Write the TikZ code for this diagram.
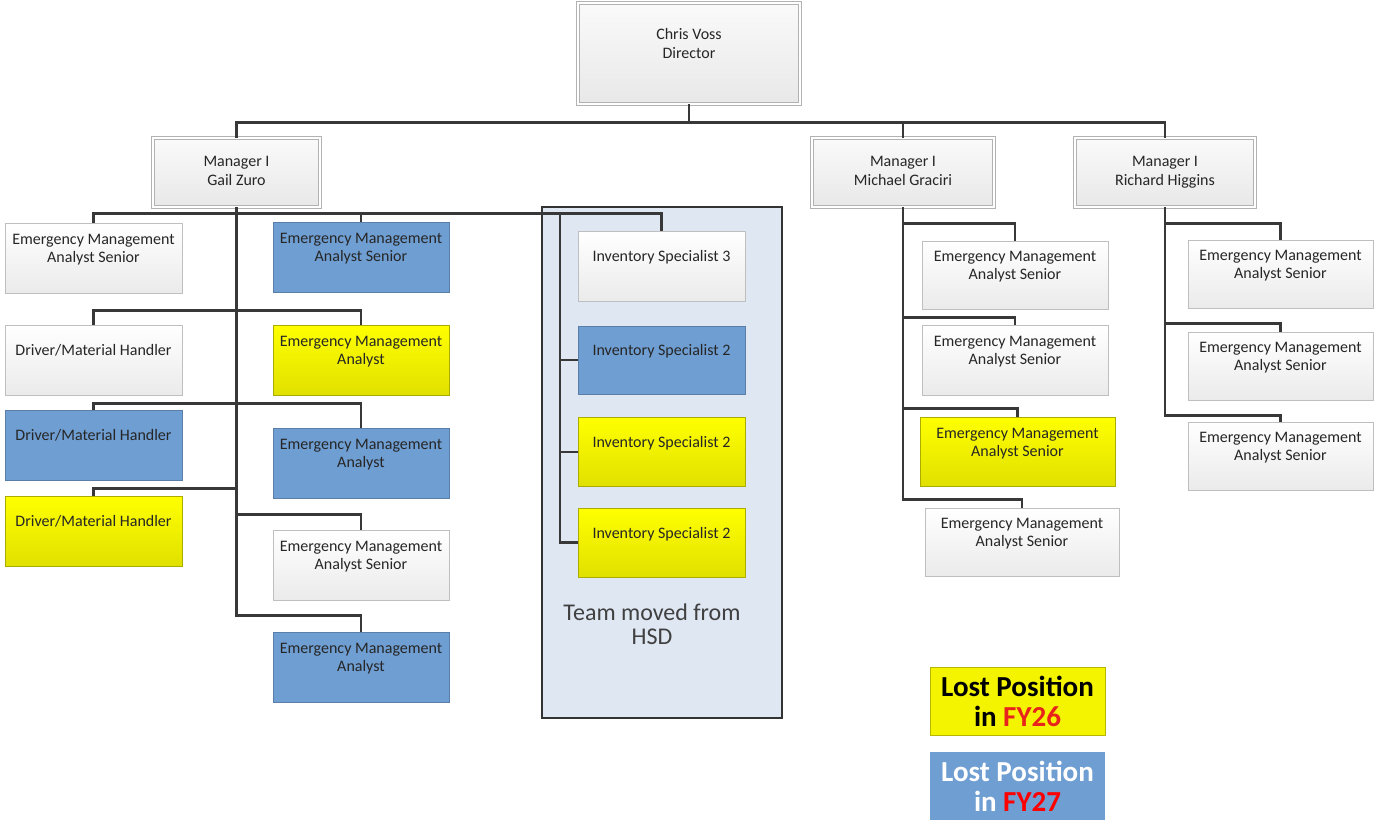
\documentclass[tikz,border=0pt]{standalone}
\usepackage{fontspec}
\setmainfont{Carlito}

\definecolor{lostblue}{HTML}{6F9ED2}
\definecolor{lostyellow}{HTML}{F4F400}
\definecolor{boxline}{HTML}{BFBFBF}
\definecolor{teamfill}{HTML}{DFE7F3}
\definecolor{linkgray}{HTML}{383838}
\definecolor{fyred}{HTML}{E8231C}

% text sits a little above the middle of each position box
\newcommand{\orgtext}[2][70]{\parbox[c][#1pt][c]{166pt}{\centering\strut#2\strut\par\vspace{16pt}}}

\begin{document}
\begin{tikzpicture}[x=1pt,y=-1pt,
    post/.style={inner sep=0pt, minimum height=70pt, text=black!85,
        font=\fontsize{16}{18}\selectfont},
    wbox/.style={post, draw=boxline, line width=0.8pt, top color=white, bottom color=black!8},
    bbox/.style={post, draw=lostblue!80!black, fill=lostblue},
    ybox/.style={post, draw=lostyellow!70!black, top color=yellow, bottom color=lostyellow!92!black},
    mgrbox/.style={draw=black!30, line width=0.9pt, double=white, double distance=1.6pt,
        top color=black!2, bottom color=black!9, inner sep=0pt, minimum height=69pt,
        align=center, text=black!85, font=\fontsize{16}{19}\selectfont},
    link/.style={draw=linkgray, line width=2.2pt},
    legend/.style={minimum width=175pt, minimum height=68pt, inner sep=0pt, align=center,
        font=\bfseries\fontsize{29}{30}\selectfont}]
    \useasboundingbox (0,0) rectangle (1377,822);

    % moved team
    \node[draw=black!80, line width=1.5pt, fill=teamfill, minimum width=240pt, minimum height=511pt]
        (team) at (662,462.5) {};
    \node[align=center, text=black!75, font=\fontsize{24}{24}\selectfont] (teamlabel) at (652,624)
        {Team moved from\\HSD};

    % heads
    \node[mgrbox, minimum width=222pt, minimum height=101pt] (dir) at (689,53.5) {\orgtext[101]{Chris Voss\\Director}};
    \node[mgrbox, minimum width=167pt] (gail) at (236.5,172.5) {\strut Manager I\\Gail Zuro\strut};
    \node[mgrbox, minimum width=182pt] (mike) at (903,172.5) {\strut Manager I\\Michael Graciri\strut};
    \node[mgrbox, minimum width=180pt] (rich) at (1165,172.5) {\strut Manager I\\Richard Higgins\strut};

    % Gail Zuro, left column
    \node[wbox, minimum width=177pt] (lems) at (93.5,258) {\orgtext{Emergency Management\\Analyst Senior}};
    \node[wbox, minimum width=177pt] (drv1) at (93.5,360) {\orgtext{Driver/Material Handler}};
    \node[bbox, minimum width=177pt] (drv2) at (93.5,445) {\orgtext{Driver/Material Handler}};
    \node[ybox, minimum width=177pt] (drv3) at (93.5,531) {\orgtext{Driver/Material Handler}};
    % Gail Zuro, right column
    \node[bbox, minimum width=176pt] (rems) at (361,257) {\orgtext{Emergency Management\\Analyst Senior}};
    \node[ybox, minimum width=176pt] (ema1) at (361,360) {\orgtext{Emergency Management\\Analyst}};
    \node[bbox, minimum width=176pt] (ema2) at (361,463) {\orgtext{Emergency Management\\Analyst}};
    \node[wbox, minimum width=176pt] (ems2) at (361,565) {\orgtext{Emergency Management\\Analyst Senior}};
    \node[bbox, minimum width=176pt] (ema3) at (361,667) {\orgtext{Emergency Management\\Analyst}};
    % inventory team
    \node[wbox, minimum width=167pt] (inv3) at (661.5,266) {\orgtext{Inventory Specialist 3}};
    \node[bbox, minimum width=167pt, minimum height=68pt] (inv2a) at (661.5,360) {\orgtext[68]{Inventory Specialist 2}};
    \node[ybox, minimum width=167pt, minimum height=69pt] (inv2b) at (661.5,452) {\orgtext[69]{Inventory Specialist 2}};
    \node[ybox, minimum width=167pt, minimum height=69pt] (inv2c) at (661.5,542.5) {\orgtext[69]{Inventory Specialist 2}};

    % Michael Graciri
    \node[wbox, minimum width=186pt, minimum height=68pt] (m1) at (1015,275) {\orgtext[68]{Emergency Management\\Analyst Senior}};
    \node[wbox, minimum width=186pt] (m2) at (1015,360) {\orgtext{Emergency Management\\Analyst Senior}};
    \node[ybox, minimum width=195pt, minimum height=69pt] (m3) at (1017.5,451.5) {\orgtext[69]{Emergency Management\\Analyst Senior}};
    \node[wbox, minimum width=194pt, minimum height=68pt] (m4) at (1022,542) {\orgtext[68]{Emergency Management\\Analyst Senior}};

    % Richard Higgins
    \node[wbox, minimum width=185pt, minimum height=68pt] (r1) at (1280.5,274) {\orgtext[68]{Emergency Management\\Analyst Senior}};
    \node[wbox, minimum width=185pt, minimum height=68pt] (r2) at (1280.5,366) {\orgtext[68]{Emergency Management\\Analyst Senior}};
    \node[wbox, minimum width=185pt, minimum height=68pt] (r3) at (1280.5,456) {\orgtext[68]{Emergency Management\\Analyst Senior}};

    % legend
    \node[legend, draw=lostyellow!75!black, fill=lostyellow] (lost26) at (1017.5,701)
        {Lost Position\\in \textcolor{fyred}{FY26}};
    \node[legend, fill=lostblue, text=white] (lost27) at (1017.5,786)
        {Lost Position\\in \textcolor{red}{FY27}};

    % connectors
    \foreach \mgr in {gail,mike,rich}
        \draw[link] (dir.south) -- ++(0,18) -| (\mgr.north);

    \draw[link] (gail.south) -- ++(0,6) -| (lems.north);
    \draw[link] (gail.south) -- ++(0,6) -| (rems.north);
    \draw[link] (gail.south) -- ++(0,6) -| (inv3.north);
    \draw[link] (gail.south) -- ++(0,103) -| (drv1.north);
    \draw[link] (gail.south) -- ++(0,103) -| (ema1.north);
    \draw[link] (gail.south) -- ++(0,196) -| (drv2.north);
    \draw[link] (gail.south) -- ++(0,196) -| (ema2.north);
    \draw[link] (gail.south) -- ++(0,281) -| (drv3.north);
    \draw[link] (gail.south) -- ++(0,307) -| (ems2.north);
    \draw[link] (gail.south) -- ++(0,408) -| (ema3.north);
    \foreach \inv in {inv2a,inv2b,inv2c}
        \draw[link] (gail.south) -- ++(0,6) -| ([xshift=-18pt]\inv.west) -- (\inv.west);

    \draw[link] (mike.south) -- ++(0,16) -| (m1.north);
    \draw[link] (mike.south) -- ++(0,110) -| (m2.north);
    \draw[link] (mike.south) -- ++(0,201) -| (m3.north);
    \draw[link] (mike.south) -- ++(0,292) -| (m4.north);

    \draw[link] (rich.south) -- ++(0,16) -| (r1.north);
    \draw[link] (rich.south) -- ++(0,116) -| (r2.north);
    \draw[link] (rich.south) -- ++(0,208) -| (r3.north);
\end{tikzpicture}
\end{document}
